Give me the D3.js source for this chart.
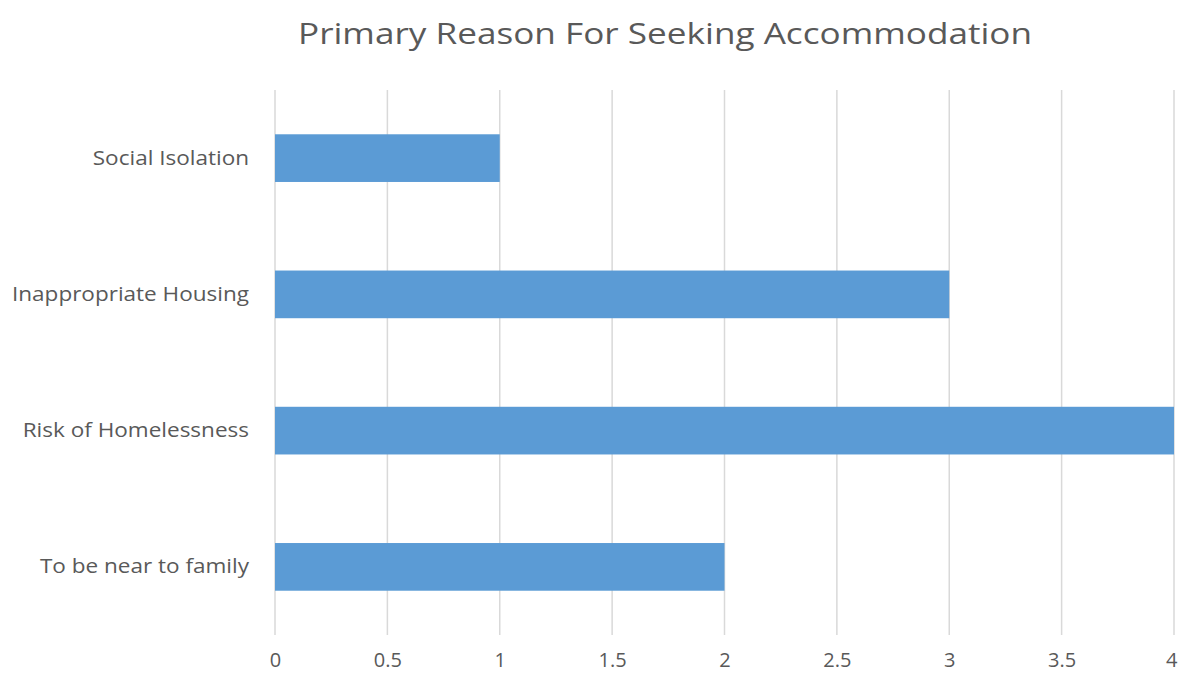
<!DOCTYPE html>
<html><head><meta charset="utf-8">
<script src="https://cdn.jsdelivr.net/npm/d3@7"></script>
<style>body{margin:0;background:#fff;} svg{display:block;}</style>
</head><body>
<svg id="chart" width="1178" height="675"></svg>
<script>
const categories = ["Social Isolation", "Inappropriate Housing", "Risk of Homelessness", "To be near to family"];
const values = [1, 3, 4, 2];
const xTicks = [0, 0.5, 1, 1.5, 2, 2.5, 3, 3.5, 4];
const title = "Primary Reason For Seeking Accommodation";

const svg = d3.select("#chart");
const font = "'Open Sans', 'Noto Sans', sans-serif";
const m = {left: 275, right: 4, top: 90, bottom: 40};
const W = 1178, H = 675;

const x = d3.scaleLinear().domain([0, 4]).range([m.left, W - m.right]);
const y = d3.scaleBand().domain(categories).range([m.top, H - m.bottom]).paddingInner(0.65).paddingOuter(0.325);

// gridlines
svg.append("g").selectAll("line").data(xTicks).join("line")
  .attr("x1", d => x(d)).attr("x2", d => x(d))
  .attr("y1", m.top).attr("y2", H - m.bottom)
  .attr("stroke", "#d9d9d9").attr("stroke-width", 1.5);

// bars
svg.append("g").selectAll("rect").data(values).join("rect")
  .attr("x", x(0)).attr("y", (d, i) => y(categories[i]))
  .attr("width", d => x(d) - x(0)).attr("height", y.bandwidth())
  .attr("fill", "#5b9bd5");

// x axis labels
const xAxis = d3.axisBottom(x).tickValues(xTicks).tickSize(0).tickPadding(0).tickFormat(d3.format("~g"));
const gx = svg.append("g").call(xAxis);
gx.select(".domain").remove();
gx.selectAll("text").attr("font-family", font).attr("font-size", 20).attr("fill", "#595959")
  .attr("dy", null).attr("y", 667)
  .attr("text-anchor", d => d === 4 ? "end" : "middle")
  .attr("dx", d => d === 4 ? 3 : 0);

// y axis labels
const yAxis = d3.axisLeft(y).tickSize(0).tickPadding(26);
const gy = svg.append("g").attr("transform", `translate(${m.left},0)`).call(yAxis);
gy.select(".domain").remove();
const yl = gy.selectAll("text").attr("font-family", font).attr("font-size", 20.5).attr("fill", "#595959");
let ref = 0;
yl.each(function(d){ if (d === "Inappropriate Housing") ref = this.getComputedTextLength(); });
const k = ref ? 237 / ref : 1;
yl.each(function(){ const w = this.getComputedTextLength(); d3.select(this).attr("textLength", w * k).attr("lengthAdjust", "spacingAndGlyphs"); });

// title
svg.append("text").attr("x", 665).attr("y", 44).attr("text-anchor", "middle")
  .attr("font-family", font).attr("font-size", 30).attr("fill", "#595959")
  .attr("textLength", 734).attr("lengthAdjust", "spacingAndGlyphs")
  .text(title);
</script>
</body></html>
